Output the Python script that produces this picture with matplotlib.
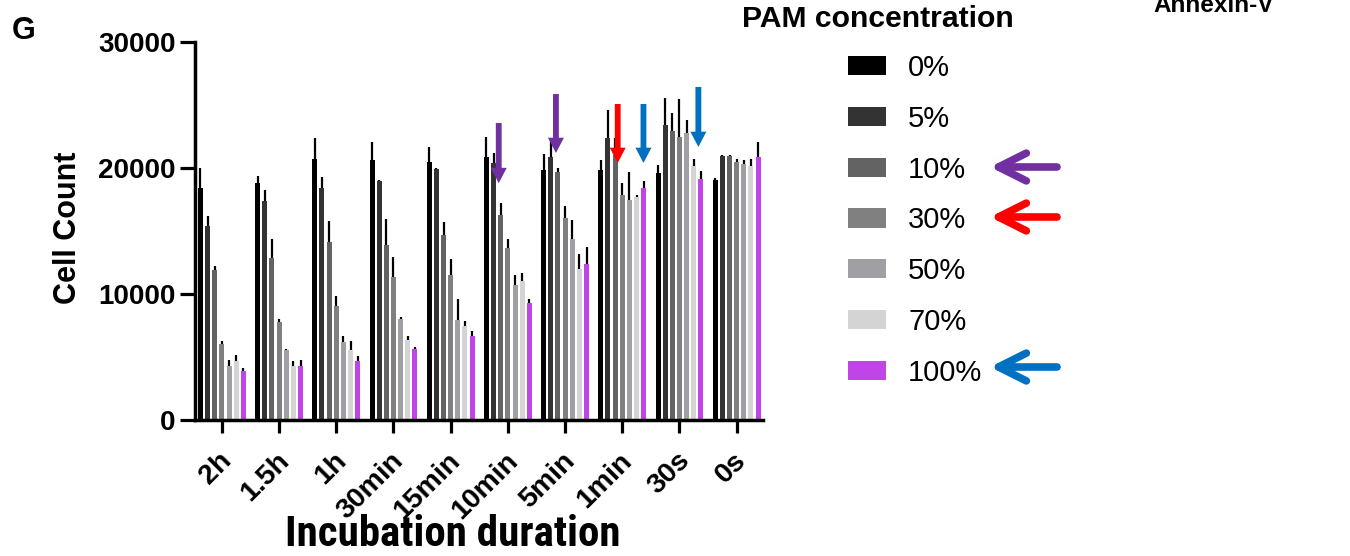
import numpy as np
import matplotlib.pyplot as plt
from matplotlib.transforms import ScaledTranslation

plt.rcParams["font.family"] = ["Liberation Sans", "DejaVu Sans"]

durations = ["2h", "1.5h", "1h", "30min", "15min", "10min", "5min", "1min", "30s", "0s"]
concs = ["0%", "5%", "10%", "30%", "50%", "70%", "100%"]
colors = ["#000000", "#333333", "#636363", "#808080", "#a0a0a4", "#d4d4d4", "#bf45e6"]

# mean cell count per concentration, one value per duration
mean_0 = [18440, 18840, 20710, 20610, 20500, 20900, 19840, 19840, 19580, 19050]
mean_5 = [15400, 17410, 18410, 18970, 19920, 20420, 20900, 22410, 23410, 20950]
mean_10 = [11930, 12860, 14100, 13890, 14680, 16270, 19710, 21000, 22910, 20950]
mean_30 = [6060, 7780, 9020, 11320, 11510, 13680, 16030, 17860, 22490, 20500]
mean_50 = [4290, 5560, 6190, 8020, 7940, 10710, 14370, 17460, 22800, 20320]
mean_70 = [4710, 4290, 5560, 6380, 7490, 11000, 12010, 17730, 20190, 20190]
mean_100 = [3890, 4290, 4680, 5660, 6670, 9260, 12410, 18390, 19130, 20850]

# upper error (SD)
err_0 = [1540, 560, 1700, 1430, 1140, 1590, 1240, 790, 690, 180]
err_5 = [820, 820, 850, 100, 100, 740, 1300, 2170, 2170, 60]
err_10 = [300, 1500, 1670, 2090, 1000, 950, 320, 1350, 1430, 60]
err_30 = [210, 260, 850, 1610, 1240, 690, 950, 930, 3000, 180]
err_50 = [480, 100, 450, 160, 1670, 820, 1510, 2200, 1000, 290]
err_70 = [420, 370, 700, 320, 350, 690, 1140, 130, 560, 560]
err_100 = [210, 450, 420, 160, 370, 320, 1350, 580, 630, 1190]

means = [mean_0, mean_5, mean_10, mean_30, mean_50, mean_70, mean_100]
errs = [err_0, err_5, err_10, err_30, err_50, err_70, err_100]

# highlighted bars: (duration index, offset in group, tip value, tail value, colour)
arrows = [
    (5, -0.16, 18800, 23570, "#7030a0"),
    (6, -0.16, 21190, 25870, "#7030a0"),
    (7, -0.08, 20400, 25080, "#ff0000"),
    (7, 0.37, 20400, 25080, "#0070c0"),
    (8, 0.33, 21670, 26430, "#0070c0"),
]
# legend rows that get a side arrow
legend_marks = {"10%": "#7030a0", "30%": "#ff0000", "100%": "#0070c0"}

fig = plt.figure(figsize=(13.5, 5.56), dpi=100)
ax = fig.add_axes([195 / 1350, 1 - 420 / 556, 568 / 1350, 378 / 556])

x = np.arange(len(durations))
slot = 0.125
width = 0.087
handles = []
for k, (m, e, c) in enumerate(zip(means, errs, colors)):
    xs = x + (k - 3) * slot
    b = ax.bar(xs, m, width=width, color=c, edgecolor="none", zorder=2)
    handles.append(b)
    # upper error only
    ax.vlines(xs, m, np.array(m) + np.array(e), color="black", lw=1.6, zorder=1)

for gi, off, tip, tail, c in arrows:
    ax.annotate("", xy=(gi + off, tip), xytext=(gi + off, tail),
                arrowprops=dict(arrowstyle="simple,head_length=1.1,head_width=1.15,tail_width=0.42",
                                color=c, lw=0, shrinkA=0, shrinkB=0),
                zorder=5)

ax.set_xlim(-0.47, 9.46)
ax.set_ylim(0, 30000)
ax.set_yticks([0, 10000, 20000, 30000])
ax.set_xticks(x)
ax.tick_params(axis="y", length=11, width=2.3, pad=3)
ax.tick_params(axis="x", length=9.5, width=2.3, pad=17)
ax.set_xticklabels(durations, rotation=45, ha="right", va="center",
                   rotation_mode="anchor", fontsize=20.5, fontweight="bold")
# nudge the slanted labels a little to the right
shift = ScaledTranslation(6 / 100, 0, fig.dpi_scale_trans)
for lab in ax.get_xticklabels():
    lab.set_transform(lab.get_transform() + shift)
for lab in ax.get_yticklabels():
    lab.set_fontsize(20)
    lab.set_fontweight("bold")
for s in ["top", "right"]:
    ax.spines[s].set_visible(False)
for s in ["left", "bottom"]:
    ax.spines[s].set_linewidth(2.5)

leg = ax.legend(handles, concs, loc="upper left", bbox_to_anchor=(848 / 1350, 1 - 54 / 556),
                bbox_transform=fig.transFigure, frameon=False, fontsize=21,
                handlelength=1.31, handleheight=0.65, handletextpad=0.75,
                labelspacing=0.78, borderpad=0, borderaxespad=0)

fig.text(878 / 1350, 1 - 19 / 556, "PAM concentration", fontsize=21.7,
         fontweight="bold", ha="center", va="center")

for lab, c in legend_marks.items():
    yy = 1 - (67 + 50 * concs.index(lab)) / 556
    ax.annotate("", xy=(990 / 1350, yy), xytext=(1057 / 1350, yy),
                xycoords="figure fraction", textcoords="figure fraction",
                arrowprops=dict(arrowstyle="->,head_length=1.0,head_width=0.5",
                                mutation_scale=20, color=c, lw=5.5,
                                capstyle="round", joinstyle="round",
                                shrinkA=0, shrinkB=0),
                annotation_clip=False)

fig.text(68 / 1350, 1 - 228 / 556, "Cell Count", rotation=90, fontsize=22,
         fontweight="bold", ha="center", va="center")
fig.text(453 / 1350, 1 - 535 / 556, "Incubation duration",
         family=["Roboto Condensed", "Liberation Sans"], fontsize=31,
         fontweight="bold", ha="center", va="center")
fig.text(23.5 / 1350, 1 - 31 / 556, "G", fontsize=22, fontweight="bold",
         ha="center", va="center")
fig.text(1214 / 1350, 1 - 12.5 / 556, "Annexin-V", fontsize=17.5,
         fontweight="bold", ha="center", va="baseline")

fig.savefig("out.png", dpi=100)
